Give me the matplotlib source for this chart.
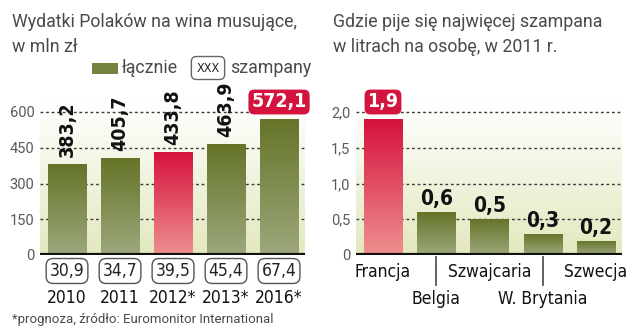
import numpy as np
import matplotlib
matplotlib.use("Agg")
import matplotlib.pyplot as plt
from matplotlib.colors import LinearSegmentedColormap
from matplotlib.transforms import blended_transform_factory
from matplotlib.patches import Rectangle

# left panel: spending of Poles on sparkling wine, mln zl
years = ["2010", "2011", "2012*", "2013*", "2016*"]
total = [383.2, 405.7, 433.8, 463.9, 572.1]
champagne = [30.9, 34.7, 39.5, 45.4, 67.4]
left_ticks = [0, 150, 300, 450, 600]

# right panel: champagne litres per person, 2011
countries = ["Francja", "Belgia", "Szwajcaria", "W. Brytania", "Szwecja"]
litres = [1.9, 0.6, 0.5, 0.3, 0.2]
right_ticks = [0, 0.5, 1.0, 1.5, 2.0]

W, H = 643, 336
fig = plt.figure(figsize=(W / 100, H / 100), dpi=100)
fig.patch.set_facecolor("white")

LIGHT = "Roboto"
COND = "DejaVu Sans"
GREY = "#5a5a5a"

green_cm = LinearSegmentedColormap.from_list("g", ["#657428", "#9ca87c"])
red_cm = LinearSegmentedColormap.from_list("r", ["#d6113c", "#ee9090"])
bg_cm = LinearSegmentedColormap.from_list("bg", ["#ffffff", "#e3e8be"])


def fx(x):
    return x / W


def fy(y):
    return 1 - y / H


def comma(v, fmt="{:.1f}"):
    return fmt.format(v).replace(".", ",")


def make_axes(x0, x1, y_top, y_bot):
    ax = fig.add_axes([fx(x0), fy(y_bot), fx(x1 - x0), (y_bot - y_top) / H])
    for s in ax.spines.values():
        s.set_visible(False)
    ax.set_xticks([])
    ax.tick_params(axis="y", length=0, pad=4, labelsize=10.5, labelcolor=GREY)
    return ax


def gradient_bars(ax, values, colors, width):
    grad = np.linspace(0, 1, 256).reshape(-1, 1)
    for i, (v, cm) in enumerate(zip(values, colors)):
        r = Rectangle((i - width / 2, 0), width, v, facecolor="none",
                      edgecolor="none")
        ax.add_patch(r)
        im = ax.imshow(grad, cmap=cm, aspect="auto", zorder=2,
                       extent=(i - width / 2, i + width / 2, 0, v),
                       origin="upper")
        im.set_clip_path(r)


def background(ax, ymax):
    grad = np.linspace(0, 1, 256).reshape(-1, 1)
    ax.imshow(grad, cmap=bg_cm, aspect="auto", zorder=0,
              extent=(-0.6, 4.6, 0, ymax), origin="upper")


# ---------------- left panel ----------------
axL = make_axes(40, 305, 102, 255)
ymaxL = 600 * 153 / 143
background(axL, ymaxL)
axL.set_xlim(-0.51, 4.49)
axL.set_ylim(0, ymaxL)
axL.set_yticks(left_ticks)
axL.set_yticklabels([str(t) for t in left_ticks], family=LIGHT)
for t in left_ticks[1:]:
    axL.axhline(t, color="#3a3a3a", lw=1, ls=(0, (2, 2)), zorder=1)
colsL = [green_cm, green_cm, red_cm, green_cm, green_cm]
gradient_bars(axL, total, colsL, 0.72)
axL.axhline(0, color="#111111", lw=3, zorder=3)

for i, v in enumerate(total):
    if i == len(total) - 1:
        axL.text(i, 1.0, comma(v), transform=blended_transform_factory(
            axL.transData, axL.transAxes), ha="center", va="center",
            family=COND, stretch="condensed", weight="bold", fontsize=14,
            color="white", zorder=5,
            bbox=dict(boxstyle="round,pad=0.15,rounding_size=0.3",
                      fc="#d4143f", ec="none"))
    else:
        axL.annotate(comma(v), (i, v), xytext=(0, 5),
                     textcoords="offset points", rotation=90,
                     ha="center", va="bottom", family=COND,
                     stretch="condensed", weight="bold", fontsize=14,
                     color="#111111", zorder=5)

trL = blended_transform_factory(axL.transData, fig.transFigure)
for i, (c, y) in enumerate(zip(champagne, years)):
    axL.text(i, fy(271), comma(c), transform=trL, ha="center", va="center",
             family=COND, stretch="condensed", fontsize=12.5, color="#222222",
             bbox=dict(boxstyle="round,pad=0.2,rounding_size=0.4",
                       fc="white", ec="#555555", lw=1))
    axL.text(i, fy(298), y, transform=trL, ha="center", va="center",
             family=COND, stretch="condensed", fontsize=12.5,
             color="#111111")

# ---------------- right panel ----------------
axR = make_axes(356, 622, 102, 255)
ymaxR = 2.0 * 153 / 143
background(axR, ymaxR)
axR.set_xlim(-0.507, 4.49)
axR.set_ylim(0, ymaxR)
axR.set_yticks(right_ticks)
axR.set_yticklabels(["0"] + [comma(t) for t in right_ticks[1:]], family=LIGHT)
for t in right_ticks[1:]:
    axR.axhline(t, color="#3a3a3a", lw=1, ls=(0, (2, 2)), zorder=1)
colsR = [red_cm] + [green_cm] * 4
gradient_bars(axR, litres, colsR, 0.72)
axR.axhline(0, color="#111111", lw=3, zorder=3)

for i, v in enumerate(litres):
    if i == 0:
        axR.text(i, 1.0, comma(v), transform=blended_transform_factory(
            axR.transData, axR.transAxes), ha="center", va="center",
            family=COND, stretch="condensed", weight="bold", fontsize=14,
            color="white", zorder=5,
            bbox=dict(boxstyle="round,pad=0.15,rounding_size=0.3",
                      fc="#d4143f", ec="none"))
    else:
        axR.annotate(comma(v), (i, v), xytext=(0, 2),
                     textcoords="offset points", ha="center", va="bottom",
                     family=COND, stretch="condensed", weight="bold",
                     fontsize=15, color="#111111", zorder=5)

trR = blended_transform_factory(axR.transData, fig.transFigure)
for i, name in enumerate(countries):
    low = i % 2 == 1
    if low:
        axR.plot([i, i], [fy(257), fy(285)], transform=trR, color="#555555",
                 lw=1.3, clip_on=False)
    axR.text(i, fy(299 if low else 272), name, transform=trR, ha="center",
             va="center", family=COND, stretch="condensed", fontsize=12.5,
             color="#111111")

# ---------------- titles, legend, note ----------------
TITLE = "#4a4a4a"
fig.text(fx(12), fy(22), "Wydatki Polaków na wina musujące,", family=LIGHT,
         fontsize=12.8, color=TITLE, va="center")
fig.text(fx(12), fy(47), "w mln zł", family=LIGHT, fontsize=12.8,
         color=TITLE, va="center")
fig.text(fx(333), fy(22), "Gdzie pije się najwięcej szampana", family=LIGHT,
         fontsize=12.8, color=TITLE, va="center")
fig.text(fx(333), fy(47), "w litrach na osobę, w 2011 r.", family=LIGHT,
         fontsize=12.8, color=TITLE, va="center")

fig.patches.append(Rectangle((fx(92), fy(74)), fx(26), 11 / H,
                             transform=fig.transFigure, fc="#74833f",
                             ec="none"))
fig.text(fx(122), fy(68), "łącznie", family=LIGHT, fontsize=12.8,
         color=TITLE, va="center")
fig.text(fx(208), fy(68), "XXX", family=COND, stretch="condensed",
         fontsize=9, color="#222222", va="center", ha="center",
         bbox=dict(boxstyle="round,pad=0.4,rounding_size=0.4", fc="white",
                   ec="#666666", lw=1))
fig.text(fx(230), fy(68), "szampany", family=LIGHT, fontsize=12.8,
         color=TITLE, va="center")

fig.text(fx(12), fy(320), "*prognoza, źródło: Euromonitor International",
         family=LIGHT, fontsize=9.5, color=TITLE, va="center")

fig.savefig("out.png", dpi=100)
